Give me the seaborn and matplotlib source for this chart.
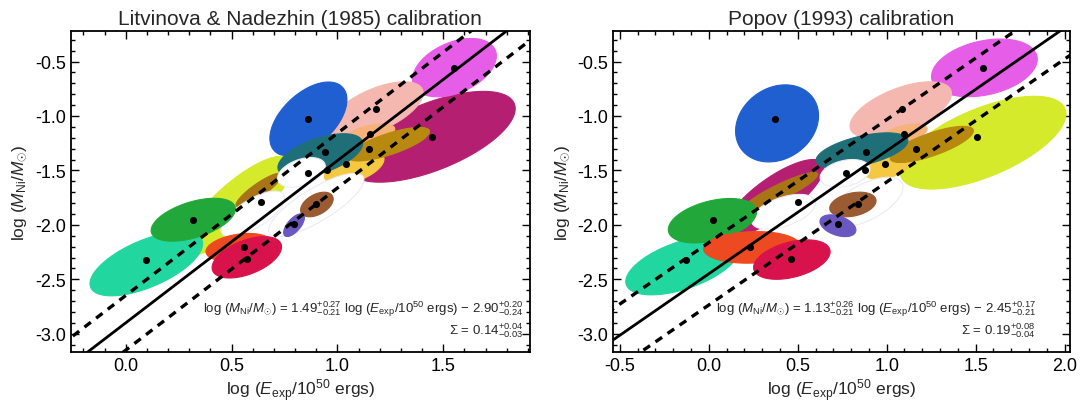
import numpy as np
import pandas as pd
import matplotlib
matplotlib.use("Agg")
import matplotlib.pyplot as plt
from matplotlib.ticker import MultipleLocator, FormatStrFormatter
import seaborn as sns

# ---------------- data ----------------
# log(M_Ni/Msun) of the 17 supernovae (shared by both panels)
log_mni = [-0.556, -0.937, -1.028, -1.164, -1.191, -1.300, -1.330, -1.442, -1.497,
           -1.524, -1.790, -1.808, -1.990, -1.953, -2.325, -2.207, -2.316]
# log(E_exp/1e50 erg) for each calibration
log_e_ln = [1.553, 1.182, 0.863, 1.154, 1.445, 1.147, 0.941, 1.040, 0.949,
            0.860, 0.638, 0.900, 0.793, 0.319, 0.094, 0.558, 0.572]
log_e_pop = [1.541, 1.086, 0.372, 1.097, 1.507, 1.165, 0.884, 0.990, 0.878,
             0.771, 0.502, 0.839, 0.726, 0.024, -0.128, 0.232, 0.462]

# error ellipses: centre x, centre y, half-extent x, half-extent y, correlation, colour
ell_ln_cx = [1.445, 1.553, 1.182, 1.154, 0.863, 0.530, 0.629, 0.600, 1.079, 1.243,
             0.919, 0.830, 0.900, 0.903, 0.795, 0.097, 0.319, 0.535, 0.572]
ell_ln_cy = [-1.191, -0.556, -0.943, -1.164, -1.028, -1.820, -1.681, -1.900, -1.472, -1.259,
             -1.363, -1.518, -1.817, -1.813, -2.003, -2.357, -1.953, -2.207, -2.298]
ell_ln_sx = [0.395, 0.198, 0.223, 0.117, 0.182, 0.255, 0.108, 0.150, 0.141, 0.192,
             0.200, 0.113, 0.225, 0.077, 0.049, 0.266, 0.199, 0.156, 0.164]
ell_ln_sy = [0.417, 0.268, 0.257, 0.090, 0.340, 0.450, 0.154, 0.210, 0.154, 0.154,
             0.200, 0.136, 0.290, 0.113, 0.104, 0.295, 0.197, 0.128, 0.190]
ell_ln_rho = [0.62, 0.40, 0.60, 0.50, 0.52, 0.80, 0.88, 0.70, 0.50, 0.75,
              0.55, 0.40, 0.80, 0.45, 0.65, 0.62, 0.50, 0.30, 0.50]
ell_ln_col = ["#b51f72", "#e65ee8", "#f5b8b0", "#f7b27a", "#1f5fd0", "#d5ea2a", "#a87416",
              "#ffffff", "#f5c842", "#b8890f", "#1f6f78", "#ffffff", "#ffffff", "#9a5a32",
              "#6a58c0", "#22d6a0", "#22a83a", "#ee4a22", "#d8124a"]

ell_pop_cx = [1.541, 1.549, 1.079, 1.097, 0.384, 0.372, 0.400, 0.420, 1.007, 1.253,
              0.861, 0.766, 0.884, 0.810, 0.726, -0.146, 0.021, 0.242, 0.467]
ell_pop_cy = [-1.245, -0.558, -0.943, -1.164, -1.068, -1.745, -1.699, -1.880, -1.445, -1.261,
              -1.318, -1.527, -1.790, -1.813, -2.008, -2.371, -1.962, -2.207, -2.319]
ell_pop_sx = [0.466, 0.297, 0.285, 0.130, 0.233, 0.275, 0.213, 0.180, 0.140, 0.234,
              0.258, 0.140, 0.208, 0.130, 0.101, 0.320, 0.248, 0.271, 0.215]
ell_pop_sy = [0.426, 0.265, 0.257, 0.090, 0.354, 0.345, 0.181, 0.160, 0.136, 0.166,
              0.163, 0.127, 0.227, 0.113, 0.100, 0.272, 0.204, 0.145, 0.181]
ell_pop_rho = [0.62, 0.30, 0.58, 0.50, 0.20, 0.78, 0.90, 0.50, 0.40, 0.75,
               0.55, 0.30, 0.60, 0.30, -0.40, 0.55, 0.40, 0.10, 0.40]
ell_pop_col = ["#d5ea2a", "#e65ee8", "#f5b8b0", "#f7b27a", "#1f5fd0", "#b51f72", "#a87416",
               "#ffffff", "#f5c842", "#b8890f", "#1f6f78", "#ffffff", "#ffffff", "#9a5a32",
               "#6a58c0", "#22d6a0", "#22a83a", "#ee4a22", "#d8124a"]

# fit results: slope, intercept, scatter
fit_ln = dict(b=1.49, a=-2.90, sig=0.14)
fit_pop = dict(b=1.13, a=-2.45, sig=0.19)

titles = ["Litvinova & Nadezhin (1985) calibration", "Popov (1993) calibration"]
eq_texts = [
    r"log ($M_{\rm Ni}/M_{\odot}$) = 1.49$^{+0.27}_{-0.21}$ log ($E_{\rm exp}/10^{50}$ ergs) $-$ 2.90$^{+0.20}_{-0.24}$",
    r"log ($M_{\rm Ni}/M_{\odot}$) = 1.13$^{+0.26}_{-0.21}$ log ($E_{\rm exp}/10^{50}$ ergs) $-$ 2.45$^{+0.17}_{-0.21}$",
]
sig_texts = [r"$\Sigma$ = 0.14$^{+0.04}_{-0.03}$", r"$\Sigma$ = 0.19$^{+0.08}_{-0.04}$"]
xlims = [(-0.26, 1.91), (-0.538, 2.03)]
xticks = [[0.0, 0.5, 1.0, 1.5], [-0.5, 0.0, 0.5, 1.0, 1.5, 2.0]]
ylim = (-3.17, -0.22)
yticks = [-0.5, -1.0, -1.5, -2.0, -2.5, -3.0]

# ---------------- style ----------------
sns.set_theme(style="ticks")
plt.rcParams["font.family"] = ["Liberation Sans", "DejaVu Sans"]
plt.rcParams["mathtext.fontset"] = "custom"
plt.rcParams["mathtext.rm"] = "Liberation Sans"
plt.rcParams["mathtext.it"] = "Liberation Sans:italic"
plt.rcParams["mathtext.bf"] = "Liberation Sans:bold"
plt.rcParams["axes.unicode_minus"] = False

fig = plt.figure(figsize=(10.83, 4.06), dpi=100)
ax_l = fig.add_axes([0.0653, 0.130, 0.4241, 0.791])
ax_r = fig.add_axes([0.566, 0.130, 0.422, 0.791])

panels = [
    (ax_l, log_e_ln, fit_ln, ell_ln_cx, ell_ln_cy, ell_ln_sx, ell_ln_sy, ell_ln_rho, ell_ln_col),
    (ax_r, log_e_pop, fit_pop, ell_pop_cx, ell_pop_cy, ell_pop_sx, ell_pop_sy, ell_pop_rho, ell_pop_col),
]

t = np.linspace(0, 2 * np.pi, 240)
for i, (ax, xe, fit, cx, cy, sx, sy, rho, col) in enumerate(panels):
    # ellipses
    for k in range(len(cx)):
        ex = cx[k] + sx[k] * np.cos(t)
        ey = cy[k] + sy[k] * (rho[k] * np.cos(t) + np.sqrt(1 - rho[k] ** 2) * np.sin(t))
        edge = "#ebebf3" if col[k] == "#ffffff" else col[k]
        ax.fill(ex, ey, facecolor=col[k], edgecolor=edge, lw=0.8, zorder=1 + 0.01 * k)

    # fit and scatter lines
    xx = np.linspace(xlims[i][0] - 0.1, xlims[i][1] + 0.1, 50)
    off = fit["sig"] * np.sqrt(1 + fit["b"] ** 2)
    df = pd.DataFrame({"x": xx, "y": fit["b"] * xx + fit["a"]})
    sns.lineplot(data=df, x="x", y="y", ax=ax, color="black", lw=2.0, zorder=3)
    for s in (+1, -1):
        dfd = pd.DataFrame({"x": xx, "y": fit["b"] * xx + fit["a"] + s * off})
        sns.lineplot(data=dfd, x="x", y="y", ax=ax, color="black", lw=2.4,
                     zorder=3).lines[-1].set_dashes((2.4, 2.0))

    # data points
    dpts = pd.DataFrame({"x": xe, "y": log_mni})
    sns.scatterplot(data=dpts, x="x", y="y", ax=ax, color="black", s=26,
                    edgecolor="black", linewidth=0, zorder=4)

    ax.set_xlim(*xlims[i])
    ax.set_ylim(*ylim)
    ax.set_xticks(xticks[i])
    ax.set_yticks(yticks)
    ax.xaxis.set_major_formatter(FormatStrFormatter("%.1f"))
    ax.yaxis.set_major_formatter(FormatStrFormatter("%.1f"))
    ax.xaxis.set_minor_locator(MultipleLocator(0.1))
    ax.yaxis.set_minor_locator(MultipleLocator(0.1))
    ax.tick_params(which="both", direction="in", top=True, right=True, colors="black",
                   labelsize=13, width=1.0)
    ax.tick_params(which="major", length=6)
    ax.tick_params(which="minor", length=3)
    for sp in ax.spines.values():
        sp.set_linewidth(1.3)
        sp.set_color("black")
    ax.set_xlabel(r"log ($E_{\rm exp}/10^{50}$ ergs)", fontsize=12.5, labelpad=2)
    ax.set_ylabel(r"log ($M_{\rm Ni}/M_{\odot}$)", fontsize=12.5, labelpad=4)
    ax.set_title(titles[i], fontsize=15, pad=5)

    xr = 0.985 if i == 0 else 0.925
    ax.text(xr, 0.135, eq_texts[i], transform=ax.transAxes, ha="right", va="center",
            fontsize=9.5, zorder=6)
    ax.text(xr, 0.07, sig_texts[i], transform=ax.transAxes, ha="right", va="center",
            fontsize=9.5, zorder=6)

fig.savefig("out.png", dpi=100)
